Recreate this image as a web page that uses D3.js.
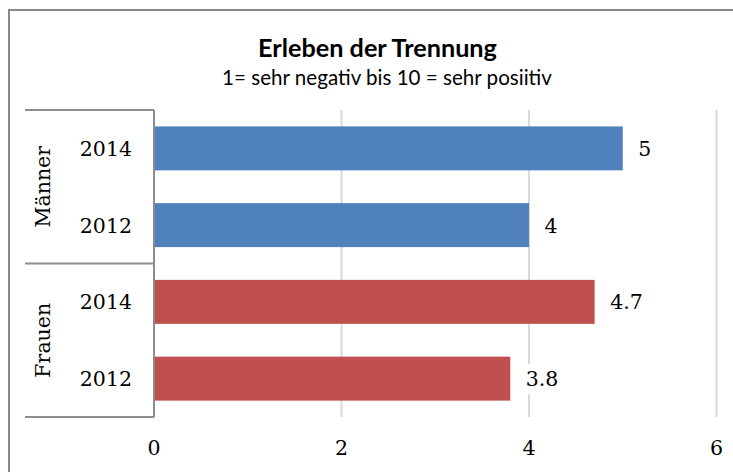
<!DOCTYPE html>
<html>
<head>
<meta charset="utf-8">
<script src="https://cdn.jsdelivr.net/npm/d3@7"></script>
<style>
  html, body { margin: 0; padding: 0; background: #fff; }
  svg { display: block; }
</style>
</head>
<body>
<svg id="chart" width="733" height="472"></svg>
<script>
// ---- data ----
const groups = ["Männer", "Frauen"];
const years = ["2014", "2012"];
const values = {
  "Männer": [5, 4],
  "Frauen": [4.7, 3.8]
};
const groupColors = ["#4F81BD", "#C0504D"];
const xTicks = [0, 2, 4, 6];
const titleText = "Erleben der Trennung";
const subtitleText = "1= sehr negativ bis 10 = sehr posiitiv";

// ---- rows built from data ----
const rows = [];
groups.forEach((g, gi) => {
  years.forEach((yr, yi) => {
    rows.push({ key: g + "|" + yr, group: g, gi: gi, year: yr, value: values[g][yi] });
  });
});

const svg = d3.select("#chart");
const serif = "'DejaVu Serif', 'Liberation Serif', serif";
const sans = "Lato, 'Open Sans', 'Noto Sans', sans-serif";
const fs = 20.5;

// outer border
svg.append("rect")
  .attr("x", 9).attr("y", 10)
  .attr("width", 740).attr("height", 480)
  .attr("fill", "none").attr("stroke", "#888").attr("stroke-width", 2);

const plotTop = 110, plotBottom = 417;
const x = d3.scaleLinear().domain([0, 6]).range([154, 716.5]);
const y = d3.scaleBand().domain(rows.map(d => d.key))
  .range([plotTop, plotBottom]).paddingInner(0.427).paddingOuter(0.2135);

// gridlines
svg.append("g").selectAll("line")
  .data(xTicks.filter(t => t !== 0))
  .join("line")
  .attr("x1", d => x(d)).attr("x2", d => x(d))
  .attr("y1", plotTop).attr("y2", plotBottom)
  .attr("stroke", "#d9d9d9").attr("stroke-width", 2);

// bars
svg.append("g").selectAll("rect")
  .data(rows)
  .join("rect")
  .attr("x", x(0))
  .attr("y", d => y(d.key))
  .attr("width", d => x(d.value) - x(0))
  .attr("height", y.bandwidth())
  .attr("fill", d => groupColors[d.gi]);

// value labels with white background
const labG = svg.append("g");
rows.forEach(d => {
  const g = labG.append("g");
  const t = g.append("text")
    .attr("x", x(d.value) + 15.5)
    .attr("y", y(d.key) + y.bandwidth() / 2)
    .attr("dy", "0.36em")
    .attr("font-family", serif)
    .attr("font-size", fs)
    .attr("fill", "#000")
    .text(d.value);
  const bb = t.node().getBBox();
  g.insert("rect", "text")
    .attr("x", bb.x - 3).attr("y", bb.y - 3)
    .attr("width", bb.width + 6).attr("height", bb.height + 6)
    .attr("fill", "#fff");
});

// x axis tick labels
svg.append("g").selectAll("text")
  .data(xTicks)
  .join("text")
  .attr("x", d => x(d))
  .attr("y", 455)
  .attr("text-anchor", "middle")
  .attr("font-family", serif)
  .attr("font-size", fs)
  .attr("fill", "#000")
  .text(d => d);

// category axis box
const boxColor = "#8c8c8c";
const boxLeft = 25;
const axisG = svg.append("g").attr("stroke", boxColor).attr("stroke-width", 2);
axisG.append("line").attr("x1", x(0)).attr("x2", x(0)).attr("y1", plotTop).attr("y2", plotBottom);
const groupBounds = groups.map((g, gi) => {
  const keys = rows.filter(r => r.group === g).map(r => r.key);
  const top = y(keys[0]) - (y.step() - y.bandwidth()) / 2;
  const bottom = y(keys[keys.length - 1]) + y.bandwidth() + (y.step() - y.bandwidth()) / 2;
  return { g, top: Math.max(plotTop, top), bottom: Math.min(plotBottom, bottom) };
});
const hLines = [plotTop, ...groupBounds.map(b => b.bottom)];
axisG.selectAll("line.h").data(hLines).join("line").attr("class", "h")
  .attr("x1", boxLeft).attr("x2", x(0))
  .attr("y1", d => d).attr("y2", d => d);

// year labels
svg.append("g").selectAll("text")
  .data(rows)
  .join("text")
  .attr("x", 132)
  .attr("y", d => y(d.key) + y.bandwidth() / 2)
  .attr("dy", "0.36em")
  .attr("text-anchor", "end")
  .attr("font-family", serif)
  .attr("font-size", fs)
  .attr("fill", "#000")
  .text(d => d.year);

// group labels (rotated)
svg.append("g").selectAll("text")
  .data(groupBounds)
  .join("text")
  .attr("transform", d => `translate(43,${(d.top + d.bottom) / 2}) rotate(-90)`)
  .attr("dy", "0.36em")
  .attr("text-anchor", "middle")
  .attr("font-family", serif)
  .attr("font-size", fs)
  .attr("fill", "#000")
  .text(d => d.g);

// title & subtitle, fitted to widths
function fitText(sel, targetW, baseSize) {
  sel.attr("font-size", baseSize);
  const w = sel.node().getComputedTextLength();
  sel.attr("font-size", baseSize * targetW / w);
}
const title = svg.append("text")
  .attr("x", 377.5).attr("y", 57)
  .attr("text-anchor", "middle")
  .attr("font-family", sans).attr("font-weight", "bold")
  .attr("fill", "#000")
  .text(titleText);
fitText(title, 239, 20);
const sub = svg.append("text")
  .attr("x", 387).attr("y", 85)
  .attr("text-anchor", "middle")
  .attr("font-family", sans)
  .attr("fill", "#000")
  .text(subtitleText);
fitText(sub, 330, 17);
</script>
</body>
</html>
